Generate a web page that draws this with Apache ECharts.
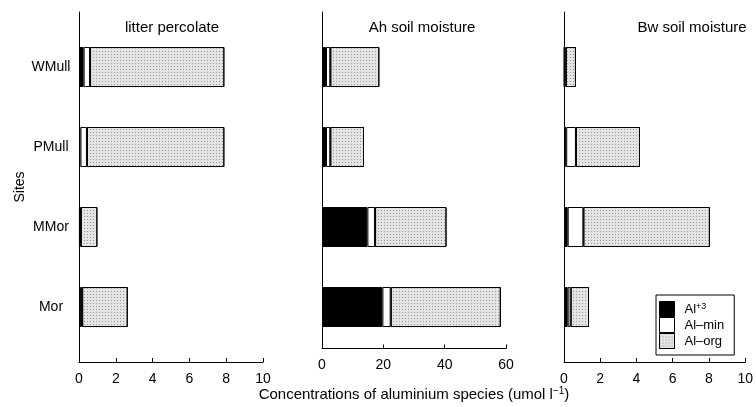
<!DOCTYPE html>
<html>
<head>
<meta charset="utf-8">
<script src="https://cdn.jsdelivr.net/npm/echarts@6/dist/echarts.min.js"></script>
<style>html,body{margin:0;padding:0;background:#fff;}#c{width:756px;height:407px;}</style>
</head>
<body>
<div id="c"></div>
<script>
var categories = ['Mor', 'MMor', 'PMull', 'WMull'];
var panelTitles = ['litter percolate', 'Ah soil moisture', 'Bw soil moisture'];
var panelMax = [10, 60, 10];
var panelInterval = [2, 20, 2];
var seriesNames = ['Al+3', 'Al-min', 'Al-org'];

var litterAl3   = [0.12, 0.05, 0.08, 0.25];
var litterAlMin = [0.05, 0.05, 0.35, 0.35];
var litterAlOrg = [2.48, 0.90, 7.47, 7.30];

var ahAl3   = [19.7, 14.8, 1.3, 1.3];
var ahAlMin = [2.7, 2.5, 1.4, 1.4];
var ahAlOrg = [35.9, 23.3, 11.0, 16.0];

var bwAl3   = [0.20, 0.20, 0.12, 0.02];
var bwAlMin = [0.16, 0.85, 0.53, 0.08];
var bwAlOrg = [1.00, 6.88, 3.48, 0.55];

var panelData = [
  [litterAl3, litterAlMin, litterAlOrg],
  [ahAl3, ahAlMin, ahAlOrg],
  [bwAl3, bwAlMin, bwAlOrg]
];

var colors = ['#000000', '#ffffff', '#e4e4e4'];
var stipple = {symbol: 'rect', symbolSize: 1, dashArrayX: [1, 2], dashArrayY: [1, 2], rotation: 0, color: 'rgba(90,90,90,0.55)'};
var FONT = 'Liberation Sans';
var lefts = [79, 322, 564];
var W = 184;
var titleCenters = [172, 422, 692];

var grids = [], xAxes = [], yAxes = [], series = [], titles = [];
for (var p = 0; p < 3; p++) {
  grids.push({left: lefts[p], width: W, top: 12, height: 350});
  grids.push({left: lefts[p], width: W, top: 27, height: 320});
  var fi = p * 2, bi = p * 2 + 1;
  xAxes.push({
    type: 'value', gridIndex: fi, min: 0, max: panelMax[p], interval: panelInterval[p],
    axisLine: {show: true, lineStyle: {color: '#000', width: 1}},
    axisTick: {show: true, inside: true, length: 4, lineStyle: {color: '#000'}},
    axisLabel: {color: '#000', fontFamily: FONT, fontSize: 14, margin: 10},
    splitLine: {show: false},
    name: p === 1 ? '{a|Concentrations of aluminium species (umol l}{s|−1}{a|)}' : '',
    nameLocation: 'middle', nameGap: 38,
    nameTextStyle: {rich: {
      a: {fontFamily: FONT, fontSize: 15, color: '#000'},
      s: {fontFamily: FONT, fontSize: 10, color: '#000', verticalAlign: 'top', padding: [0, 0, 6, 0]}
    }}
  });
  xAxes.push({
    type: 'value', gridIndex: bi, min: 0, max: panelMax[p], interval: panelInterval[p],
    show: false
  });
  yAxes.push({
    type: 'value', gridIndex: fi, min: 0, max: 1,
    axisLine: {show: true, lineStyle: {color: '#000', width: 1}},
    axisTick: {show: false}, axisLabel: {show: false}, splitLine: {show: false},
    name: p === 0 ? 'Sites' : '', nameLocation: 'middle', nameGap: 52, nameRotate: 90,
    nameTextStyle: {fontFamily: FONT, fontSize: 14, color: '#000'}
  });
  yAxes.push({
    type: 'category', gridIndex: bi, data: categories,
    axisLine: {show: false}, axisTick: {show: false},
    axisLabel: {show: p === 0, color: '#000', fontFamily: FONT, fontSize: 14, margin: 28, align: 'center'}
  });
  for (var s = 0; s < 3; s++) {
    var st = {color: colors[s], borderColor: '#000', borderWidth: 1};
    if (s === 2) st.decal = stipple;
    series.push({
      type: 'bar', name: seriesNames[s], xAxisIndex: bi, yAxisIndex: bi,
      stack: 'p' + p, barWidth: 40, data: panelData[p][s],
      itemStyle: st,
      emphasis: {disabled: true}
    });
  }
  titles.push({
    text: panelTitles[p], left: titleCenters[p], top: 20, textAlign: 'center', padding: 0,
    textStyle: {fontFamily: FONT, fontSize: 15, fontWeight: 'normal', color: '#000'}
  });
}

var chart = echarts.init(document.getElementById('c'), null, {renderer: 'canvas'});
chart.setOption({
  animation: false,
  title: titles,
  grid: grids,
  xAxis: xAxes,
  yAxis: yAxes,
  series: series,
  legend: {
    data: seriesNames, orient: 'vertical', left: 656, top: 295,
    icon: 'rect',
    itemWidth: 15, itemHeight: 15, itemGap: 0,
    borderColor: '#000', borderWidth: 1, padding: [6, 10, 6, 3],
    selectedMode: false,
    formatter: function (n) { return n === 'Al+3' ? '{a|Al}{s|+3}' : '{a|' + n.replace('-', '–') + '}'; },
    textStyle: {padding: [0, 0, 0, 5], rich: {
      a: {fontFamily: FONT, fontSize: 13, color: '#000'},
      s: {fontFamily: FONT, fontSize: 9, color: '#000', verticalAlign: 'top', padding: [0, 0, 5, 0]}
    }},
    itemStyle: {borderColor: '#000', borderWidth: 1}
  }
});
</script>
</body>
</html>
